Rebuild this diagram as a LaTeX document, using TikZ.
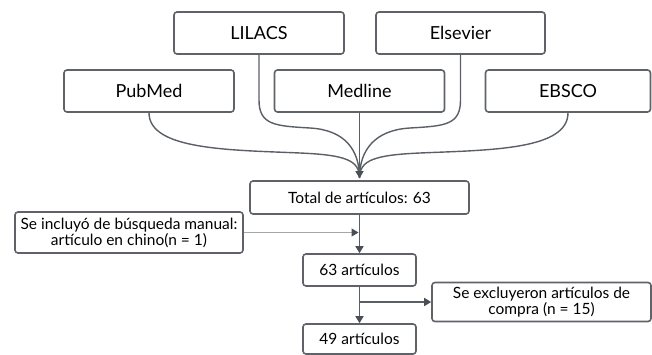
\documentclass[tikz,border=0pt]{standalone}
\usepackage{fontspec}
\setmainfont{Lato}
\usetikzlibrary{arrows.meta}
\definecolor{boxline}{HTML}{5F6368}
\definecolor{conn}{HTML}{5A5F66}
\definecolor{lightconn}{HTML}{A4A8AC}
\definecolor{tipcol}{HTML}{4A4F55}
\tikzset{
  dbbox/.style={draw=boxline,line width=1.6pt,rounded corners=3pt,fill=white,inner sep=0pt,font=\fontsize{18}{20}\selectfont,text=black},
  stepbox/.style={draw=boxline,line width=1.6pt,rounded corners=3pt,fill=white,inner sep=0pt,align=center,font=\fontsize{15.5}{16}\selectfont,text=black},
  conline/.style={draw=conn,line width=1.4pt},
  arr/.style={-{Triangle[width=8pt,length=7pt,color=tipcol]}},
}
\begin{document}
\begin{tikzpicture}[x=1pt,y=-1pt]
\useasboundingbox (0,0) rectangle (652,355);
% source boxes
\node[dbbox,minimum width=170pt,minimum height=42pt] (lil) at (259,33) {LILACS};
\node[dbbox,minimum width=169pt,minimum height=42pt] (els) at (460.5,33) {Elsevier};
\node[dbbox,minimum width=170pt,minimum height=42pt] (pub) at (149,91) {PubMed};
\node[dbbox,minimum width=170pt,minimum height=42pt] (med) at (359.5,91) {Medline};
\node[dbbox,minimum width=165pt,minimum height=42pt] (ebs) at (568,91) {EBSCO};
% process boxes
\node[stepbox,minimum width=219pt,minimum height=33pt] (tot) at (359.5,197.5) {Total de artículos: 63};
\node[stepbox,minimum width=228pt,minimum height=41pt] (man) at (129,232.5) {Se incluyó de búsqueda manual:\\artículo en chino(n = 1)};
\node[stepbox,minimum width=113pt,minimum height=32pt] (a63) at (359.5,270) {63 artículos};
\node[stepbox,minimum width=219pt,minimum height=39pt] (exc) at (541.5,302) {Se excluyeron artículos de\\compra (n = 15)};
\node[stepbox,minimum width=113pt,minimum height=30pt] (a49) at (359.5,339) {49 artículos};
\coordinate (merge) at (359.5,178);
% curved connectors
\draw[conline] (pub.south) .. controls (149,150) and (230,150) .. (300,153) .. controls (345,155) and (359.5,160) .. (merge);
\draw[conline] (lil.south) -- (259,100) .. controls (259,125) and (275,126) .. (310,128) .. controls (345,130) and (359.5,150) .. (merge);
\draw[conline] (els.south) -- (460.5,100) .. controls (460.5,125) and (445,126) .. (410,128) .. controls (375,130) and (359.5,150) .. (merge);
\draw[conline] (ebs.south) .. controls (568,150) and (490,150) .. (420,153) .. controls (375,155) and (359.5,160) .. (merge);
\draw[conline,arr,shorten >=2pt] (med.south) -- (tot.north);
% flow
\draw[conline,arr] (tot.south) -- (a63.north);
\draw[line width=1.4pt,draw=lightconn,arr,shorten >=1pt] (man.east) -- (man.east -| tot.south);
\draw[conline,arr] (a63.south) -- (a49.north);
\draw[conline,arr] (exc.west -| a63.south) -- (exc.west);
\end{tikzpicture}
\end{document}
